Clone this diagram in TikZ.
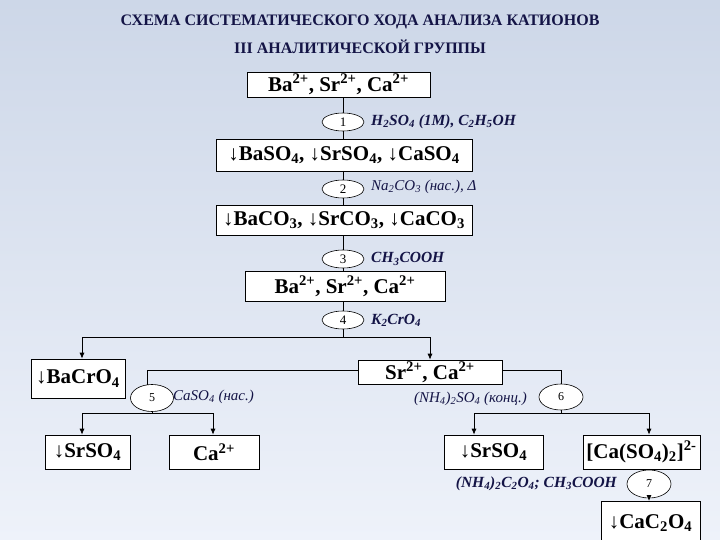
\documentclass[tikz,border=0pt]{standalone}
\usepackage{fontspec}
\setmainfont{Liberation Serif}
\usetikzlibrary{shapes.geometric,arrows.meta}
\newcommand{\sbs}[1]{\textsubscript{#1}}
\newcommand{\sps}[1]{\textsuperscript{#1}}
\definecolor{ttl}{RGB}{20,20,70}
\definecolor{skytop}{RGB}{205,215,232}
\definecolor{skymid}{RGB}{150,172,212}
\definecolor{skybot}{RGB}{238,242,250}
\tikzset{
 box/.style={draw,fill=white,line width=0.6pt,inner sep=0pt,font=\bfseries\fontsize{21}{21}\selectfont},
 el/.style={draw,fill=white,ellipse,line width=0.6pt,inner sep=0pt,font=\fontsize{13}{13}\selectfont},
 lab/.style={font=\bfseries\itshape\fontsize{15.5}{15.5}\selectfont,text=ttl,inner sep=1pt},
 ln/.style={line width=0.8pt},
 ar/.style={line width=0.8pt,-{Latex[length=6pt,width=5pt]}}
}
\begin{document}
\begin{tikzpicture}[x=1pt,y=-1pt]
\shade[top color=skytop,middle color=skymid,bottom color=skybot] (0,0) rectangle (720,540);
\useasboundingbox (0,0) rectangle (720,540);
\node[font=\bfseries\fontsize{16}{16}\selectfont,text=ttl] (t1) at (360,22) {СХЕМА СИСТЕМАТИЧЕСКОГО ХОДА АНАЛИЗА КАТИОНОВ};
\node[font=\bfseries\fontsize{16}{16}\selectfont,text=ttl] (t2) at (360,47) {III АНАЛИТИЧЕСКОЙ ГРУППЫ};
% chain
\node[box,minimum width=183pt,minimum height=25pt] (b1) at (338.5,84.5) {Ba\sps{2+}, Sr\sps{2+}, Ca\sps{2+}};
\node[box,minimum width=256pt,minimum height=32pt] (b2) at (344,155) {↓BaSO\sbs{4}, ↓SrSO\sbs{4}, ↓CaSO\sbs{4}};
\node[box,minimum width=256pt,minimum height=30pt] (b3) at (344,220) {↓BaCO\sbs{3}, ↓SrCO\sbs{3}, ↓CaCO\sbs{3}};
\node[box,minimum width=200pt,minimum height=30pt] (b4) at (345,286) {Ba\sps{2+}, Sr\sps{2+}, Ca\sps{2+}};
\draw[ln] (b1.south -| 343,0) -- (343,139);
\draw[ln] (343,171) -- (343,205);
\draw[ln] (343,235) -- (343,271);
\draw[ln] (343,301) -- (343,337);
\node[el,minimum width=42pt,minimum height=18pt] (e1) at (343,122) {1};
\node[el,minimum width=42pt,minimum height=18pt] (e2) at (343,189) {2};
\node[el,minimum width=42pt,minimum height=18pt] (e3) at (343,259) {3};
\node[el,minimum width=42pt,minimum height=18pt] (e4) at (343,320) {4};
\node[lab,anchor=west] (l1) at (370,122) {H\sbs{2}SO\sbs{4} (1M), C\sbs{2}H\sbs{5}OH};
\node[lab,anchor=west,font=\itshape\fontsize{15}{15}\selectfont] (l2) at (370,187) {Na\sbs{2}CO\sbs{3} (нас.), Δ};
\node[lab,anchor=west] (l3) at (370,259) {CH\sbs{3}COOH};
\node[lab,anchor=west] (l4) at (370,320) {K\sbs{2}CrO\sbs{4}};
% split 4
\node[box,minimum width=94pt,minimum height=39pt] (ba) at (78,378.5) {↓BaCrO\sbs{4}};
\node[box,minimum width=144pt,minimum height=24pt] (sc) at (430,372) {Sr\sps{2+}, Ca\sps{2+}};
\draw[ln] (82,337) -- (430,337);
\draw[ar] (82,337) -- (ba.north -| 82,0);
\draw[ar] (430,337) -- (sc.north);
% left branch 5
\node[el,minimum width=43pt,minimum height=27pt,font=\fontsize{12}{12}\selectfont] (e5) at (152,398) {5};
\node[lab,anchor=west,font=\itshape\fontsize{15}{15}\selectfont] (l5) at (172,397) {CaSO\sbs{4} (нас.)};
\draw[ln] (sc.west |- 0,370) -- (147,370) -- (147,385);
\node[box,minimum width=85pt,minimum height=34pt] (s1) at (87.5,452) {↓SrSO\sbs{4}};
\node[box,minimum width=90pt,minimum height=34pt] (c1) at (214,452) {Ca\sps{2+}};
\draw[ln] (e5.south) -- (152,413);
\draw[ln] (82,413) -- (213,413);
\draw[ar] (82,413) -- (s1.north -| 82,0);
\draw[ar] (213,413) -- (c1.north -| 213,0);
% right branch 6
\node[el,minimum width=44pt,minimum height=26pt,font=\fontsize{12}{12}\selectfont] (e6) at (561,397) {6};
\draw[ln] (sc.east |- 0,370) -- (561,370) -- (e6.north);
\node[lab,anchor=east,font=\itshape\fontsize{15}{15}\selectfont] (l6) at (528,399) {(NH\sbs{4})\sbs{2}SO\sbs{4} (конц.)};
\node[box,minimum width=99pt,minimum height=34pt] (s2) at (493.5,452) {↓SrSO\sbs{4}};
\node[box,minimum width=117pt,minimum height=34pt] (cs) at (641.5,452) {[Ca(SO\sbs{4})\sbs{2}]\sps{2-}};
\draw[ln] (e6.south) -- (561,413);
\draw[ln] (474,413) -- (649,413);
\draw[ar] (474,413) -- (s2.north -| 474,0);
\draw[ar] (649,413) -- (cs.north -| 649,0);
\node[lab,anchor=east] (l7) at (618,484) {(NH\sbs{4})\sbs{2}C\sbs{2}O\sbs{4}; CH\sbs{3}COOH};
\node[el,minimum width=44pt,minimum height=28pt,font=\fontsize{12}{12}\selectfont] (e7) at (649,484) {7};
\node[box,minimum width=99pt,minimum height=44pt,anchor=north] (cc) at (650.5,501) {↓CaC\sbs{2}O\sbs{4}};
\draw[ln] (cs.south -| 649,0) -- (e7.north);
\draw[ar] (e7.south) -- (cc.north -| 649,0);
\end{tikzpicture}
\end{document}
